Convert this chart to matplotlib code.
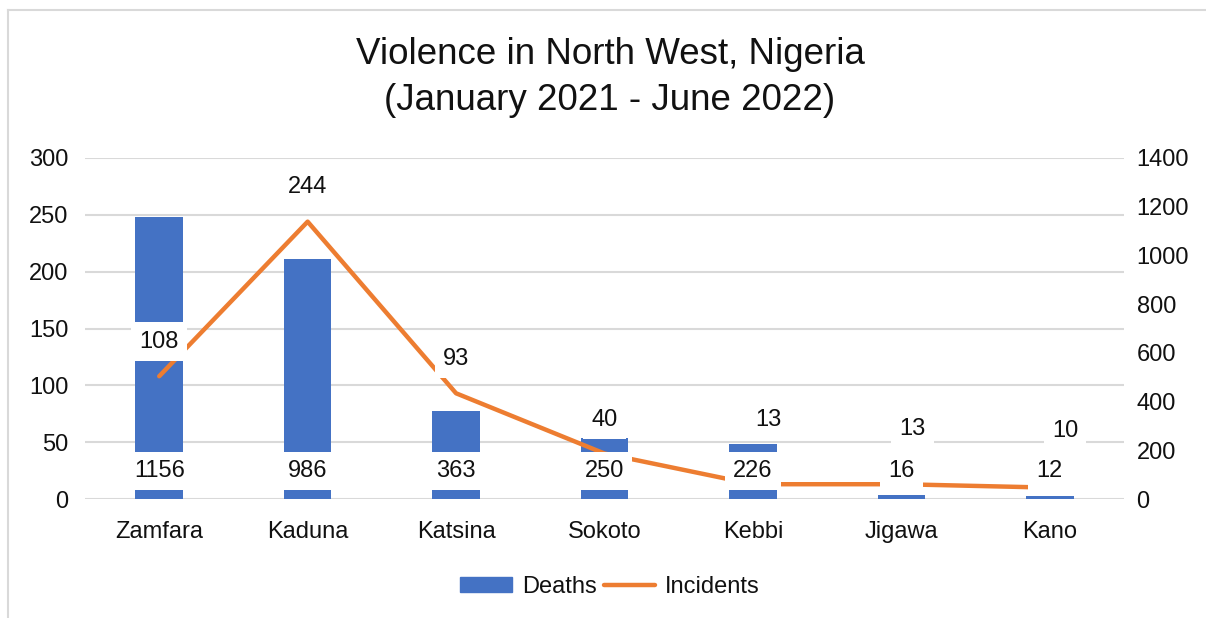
import matplotlib
matplotlib.use("Agg")
import matplotlib.pyplot as plt
from matplotlib.lines import Line2D

plt.rcParams['font.family'] = ['Liberation Sans', 'DejaVu Sans']

states = ['Zamfara', 'Kaduna', 'Katsina', 'Sokoto', 'Kebbi', 'Jigawa', 'Kano']
deaths = [1156, 986, 363, 250, 226, 16, 12]
incidents = [108, 244, 93, 40, 13, 13, 10]

left_ticks = [0, 50, 100, 150, 200, 250, 300]
right_ticks = [0, 200, 400, 600, 800, 1000, 1200, 1400]

# label offsets (points) for the incident labels, some were moved by hand
inc_off = [(0, 25), (0, 25), (0, 25), (0, 24), (11, 46), (8, 40), (11, 41)]

blue = '#4472C4'
orange = '#ED7D31'
txt = '#111111'
fs = 17

W, H = 1206, 618
fig = plt.figure(figsize=(W / 100, H / 100), dpi=100)
fig.patch.set_facecolor('white')

ax = fig.add_axes([85 / W, 1 - 499 / H, (1124 - 85) / W, (499 - 158) / H])
ax2 = ax.twinx()

x = list(range(len(states)))

# left axis: incidents scale, owns the gridlines
ax.set_ylim(0, 300)
ax.set_xlim(-0.5, len(states) - 0.5)
ax.set_yticks(left_ticks)
ax.grid(axis='y', color='#D9D9D9', lw=1.5)
ax.set_axisbelow(True)
ax.set_xticks(x)
ax.set_xticklabels(states)

# right axis: deaths scale, bars
ax2.set_ylim(0, 1400)
ax2.set_yticks(right_ticks)
ax2.bar(x, deaths, width=0.32, color=blue, zorder=2, label='Deaths')

# line drawn on top axes but in the left-axis data coordinates
ax2.plot(x, incidents, color=orange, lw=3.2, solid_capstyle='round',
         transform=ax.transData, zorder=3, label='Incidents')

box = dict(boxstyle='square,pad=0.35', fc='white', ec='none')
for xi, d in zip(x, deaths):
    ax2.annotate(str(d), (xi, 0), xytext=(0, 20), textcoords='offset points',
                 ha='center', va='center', fontsize=fs, color=txt,
                 bbox=box, zorder=5)
for xi, v, off in zip(x, incidents, inc_off):
    ax2.annotate(str(v), (xi, v), xycoords=ax.transData, xytext=off,
                 textcoords='offset points', ha='center', va='center',
                 fontsize=fs, color=txt, bbox=box, zorder=5)

for a in (ax, ax2):
    for s in a.spines.values():
        s.set_visible(False)
    a.tick_params(length=0, labelsize=fs, colors=txt)
ax.tick_params(axis='y', pad=12)
ax2.tick_params(axis='y', pad=9)
ax.tick_params(axis='x', pad=16)

fig.text(610 / W, 1 - 55 / H, 'Violence in North West, Nigeria',
         ha='center', va='center', fontsize=26.5, color=txt)
fig.text(610 / W, 1 - 100 / H, '(January 2021 - June 2022)',
         ha='center', va='center', fontsize=26.5, color=txt)

handles = [plt.Rectangle((0, 0), 1, 1, color=blue),
           Line2D([0], [0], color=orange, lw=3.2, solid_capstyle='round')]
fig.legend(handles, ['Deaths', 'Incidents'], loc='center',
           bbox_to_anchor=(610 / W, 1 - 587 / H), ncol=2, frameon=False,
           fontsize=fs, handlelength=2.2, handleheight=0.6,
           handletextpad=0.4, columnspacing=0.3, labelcolor=txt)

# chart border (top and left edges visible in the crop)
fig.add_artist(Line2D([8 / W, 1], [1 - 10 / H, 1 - 10 / H], color='#D9D9D9', lw=1.5))
fig.add_artist(Line2D([8 / W, 8 / W], [0, 1 - 10 / H], color='#D9D9D9', lw=1.5))

fig.savefig('out.png', dpi=100)
